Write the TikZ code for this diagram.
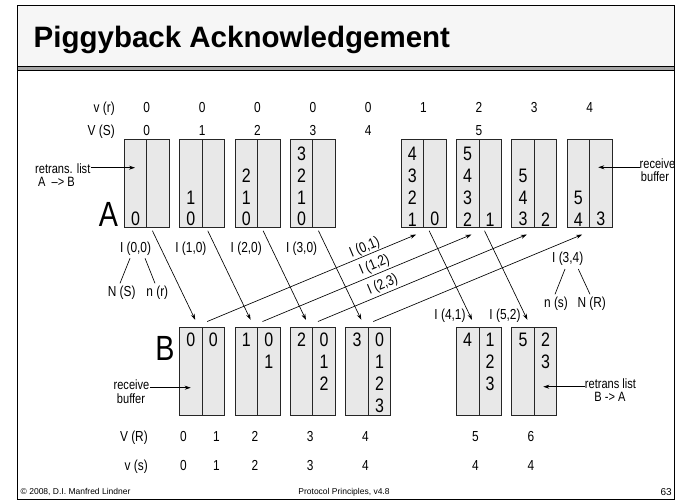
\documentclass[tikz,border=0pt]{standalone}
\usepackage{fontspec}
\setmainfont{Liberation Sans}
\newfontfamily\cond[FakeStretch=0.82]{Liberation Sans}
\usetikzlibrary{arrows.meta,calc}
\definecolor{bufgray}{RGB}{232,232,232}
\definecolor{titlegray}{RGB}{246,246,246}
\definecolor{midgray}{RGB}{165,165,165}
\begin{document}
\begin{tikzpicture}[x=1pt,y=-1pt,
  buf/.style={draw=black!85, fill=bufgray, line width=0.8pt, minimum width=45pt, minimum height=88pt, inner sep=0pt},
  big/.style={font=\cond\fontsize{19.5}{21.8}\selectfont, inner sep=0pt, align=center},
  lbl/.style={font=\cond\fontsize{14.5}{16}\selectfont, inner sep=0pt},
  ann/.style={font=\cond\fontsize{13.5}{14}\selectfont, inner sep=0pt},
  huge/.style={font=\cond\fontsize{35}{38}\selectfont, inner sep=0pt},
  arr/.style={-{Stealth[length=6pt,width=4pt]}, line width=0.65pt},
  ln/.style={line width=0.65pt},
  foot/.style={font=\fontsize{8.5}{10}\selectfont, inner sep=0pt}]
\useasboundingbox (0,0) rectangle (675,501);
\fill[white] (0,0) rectangle (675,501);
% frame and title band
\fill[titlegray] (17,5) rectangle (675,66);
\fill[midgray] (17,66) rectangle (675,70.5);
\draw[line width=1pt] (17,66) -- (675,66);
\draw[line width=0.8pt] (17,70.5) -- (675,70.5);
\draw[line width=0.9pt] (17,5) rectangle (674.5,499);
\node[anchor=base west, font=\bfseries\fontsize{29.5}{33}\selectfont, inner sep=0pt] (title) at (33.5,47.5) {Piggyback Acknowledgement};
% footer
\node[foot, anchor=base west] (f1) at (20.5,494.5) {© 2008, D.I. Manfred Lindner};
\node[foot, anchor=base] (f2) at (344,494.5) {Protocol Principles, v4.8};
\node[foot, font=\fontsize{10}{12}\selectfont, anchor=base east] (f3) at (672,495) {63};
% A buffers
\foreach \i in {0,1,2,3,5,6,7,8} {
  \node[buf] (a\i) at ({146.8+55.35*\i},183.85) {};
  \draw[line width=0.8pt, black!85] (a\i.north) -- (a\i.south);
}
\foreach \i/\l/\r in {0/0/{},1/1\\0/{},2/2\\1\\0/{},3/3\\2\\1\\0/{},5/4\\3\\2\\1/0,6/5\\4\\3\\2/1,7/5\\4\\3/2,8/5\\4/3} {
  \node[big, anchor=south] (a\i l) at ($(a\i.south)+(-11.25,-1.9)$) {\l};
  \node[big, anchor=south] (a\i r) at ($(a\i.south)+(11.25,-1.9)$) {\r};
}
% B buffers
\foreach \i in {1,2,3,4,6,7} {
  \node[buf] (b\i) at ({146.8+55.35*\i},371.5) {};
  \draw[line width=0.8pt, black!85] (b\i.north) -- (b\i.south);
}
\foreach \i/\l/\r in {1/0/0,2/1/0\\1,3/2/0\\1\\2,4/3/0\\1\\2\\3,6/4/1\\2\\3,7/5/2\\3} {
  \node[big, anchor=north] (b\i l) at ($(b\i.north)+(-11.25,6)$) {\l};
  \node[big, anchor=north] (b\i r) at ($(b\i.north)+(11.25,6)$) {\r};
}
% big letters
\node[huge, anchor=base] (lA) at (108.5,226.5) {A};
\node[huge, anchor=base] (lB) at (165,360) {B};
% top headings
\node[lbl, anchor=base east] (hvr) at (115,112.7) {v (r)};
\node[lbl, anchor=base east] (hVS) at (115,135) {V (S)};
\foreach \i/\v in {0/0,1/0,2/0,3/0,4/0,5/1,6/2,7/3,8/4}
  \node[lbl, anchor=base] (vr\i) at ({146.8+55.35*\i},112.7) {\v};
\foreach \i/\v in {0/0,1/1,2/2,3/3,4/4,6/5}
  \node[lbl, anchor=base] (VS\i) at ({146.8+55.35*\i},135) {\v};
% bottom headings
\node[lbl, anchor=base east] (hVR) at (148,441) {V (R)};
\node[lbl, anchor=base east] (hvs) at (148,470) {v (s)};
\foreach \n/\x/\a/\b in {0/183.5/0/0, 1/216.5/1/1, 2/255/2/2, 3/310.3/3/3, 4/365.5/4/4, 5/475.5/5/4, 6/531/6/4} {
  \node[lbl, anchor=base] (VR\n) at (\x,441) {\a};
  \node[lbl, anchor=base] (vs\n) at (\x,470) {\b};
}
% I labels under A
\foreach \i/\t in {0/{I (0,0)},1/{I (1,0)},2/{I (2,0)},3/{I (3,0)}}
  \node[lbl, anchor=base] (I\i) at ($(a\i.south)+(-11.25,23.8)$) {\t};
\node[lbl, anchor=base] (NS) at (121.7,296) {N (S)};
\node[lbl, anchor=base] (nr) at (157.3,296) {n (r)};
\draw[ln] ($(I0.south)+(-5.5,3)$) -- ($(NS.north)+(-1.7,-2)$);
\draw[ln] ($(I0.south)+(9.5,3)$) -- ($(nr.north)+(-2.3,-2)$);
\node[lbl, anchor=base] (I34) at (567.7,262.8) {I (3,4)};
\node[lbl, anchor=base] (ns) at (556,307) {n (s)};
\node[lbl, anchor=base] (NR) at (591.7,307) {N (R)};
\draw[ln] ($(I34.south)+(-2.7,3)$) -- ($(ns.north)+(-1,-2)$);
\draw[ln] ($(I34.south)+(10.6,3)$) -- ($(NR.north)+(-1.7,-2)$);
\node[lbl, anchor=base] (I41) at (450,319.5) {I (4,1)};
\node[lbl, anchor=base] (I52) at (505,319.5) {I (5,2)};
% down arrows A -> B
\foreach \s/\t in {0/1,1/2,2/3,3/4,5/6,6/7}
  \draw[arr] ($(a\s.south west)+(28.5,2.5)$) -- ($(b\t.north west)+(16,-7.3)$);
% up arrows B -> A
\draw[arr] ($(b1.north west)+(28,-5.6)$) -- node[lbl, above=0.5pt, sloped, pos=0.768] (I01) {I (0,1)} ($(a5.south west)+(15.5,6.3)$);
\draw[arr] ($(b2.north west)+(28,-5.6)$) -- node[lbl, above=2pt, sloped, pos=0.552] (I12) {I (1,2)} ($(a6.south west)+(15.5,6.3)$);
\draw[arr] ($(b3.north west)+(28,-5.6)$) -- node[lbl, above=2pt, sloped, pos=0.327] (I23) {I (2,3)} ($(a7.south west)+(15.5,6.3)$);
\draw[arr] ($(b4.north west)+(28,-5.6)$) -- ($(a8.south west)+(15.5,6.3)$);
% annotations
\node[ann, anchor=base west] (rl1) at (35,173) {retrans. list};
\node[ann, anchor=base west] (rl2) at (38,186) {A\ \ –> B};
\coordinate (ra) at (135,167.7);
\draw[arr] (rl1.east |- ra) -- (ra);
\node[ann, anchor=base west] (rb1) at (639.5,168) {receive};
\node[ann, anchor=base] (rb2) at (655,181) {buffer};
\coordinate (rbt) at (598.3,167.3);
\draw[arr] (rb1.west |- rbt) -- (rbt);
\node[ann, anchor=base] (bb1) at (131.5,389) {receive};
\node[ann, anchor=base] (bb2) at (131,403) {buffer};
\coordinate (bbt) at (190.7,387.7);
\draw[arr] (bb1.east |- bbt) -- (bbt);
\node[ann, anchor=base] (rt1) at (610.5,388) {retrans list};
\node[ann, anchor=base] (rt2) at (610,401) {B -> A};
\coordinate (rtt) at (543.3,386.7);
\draw[arr] (rt1.west |- rtt) -- (rtt);
\end{tikzpicture}
\end{document}
